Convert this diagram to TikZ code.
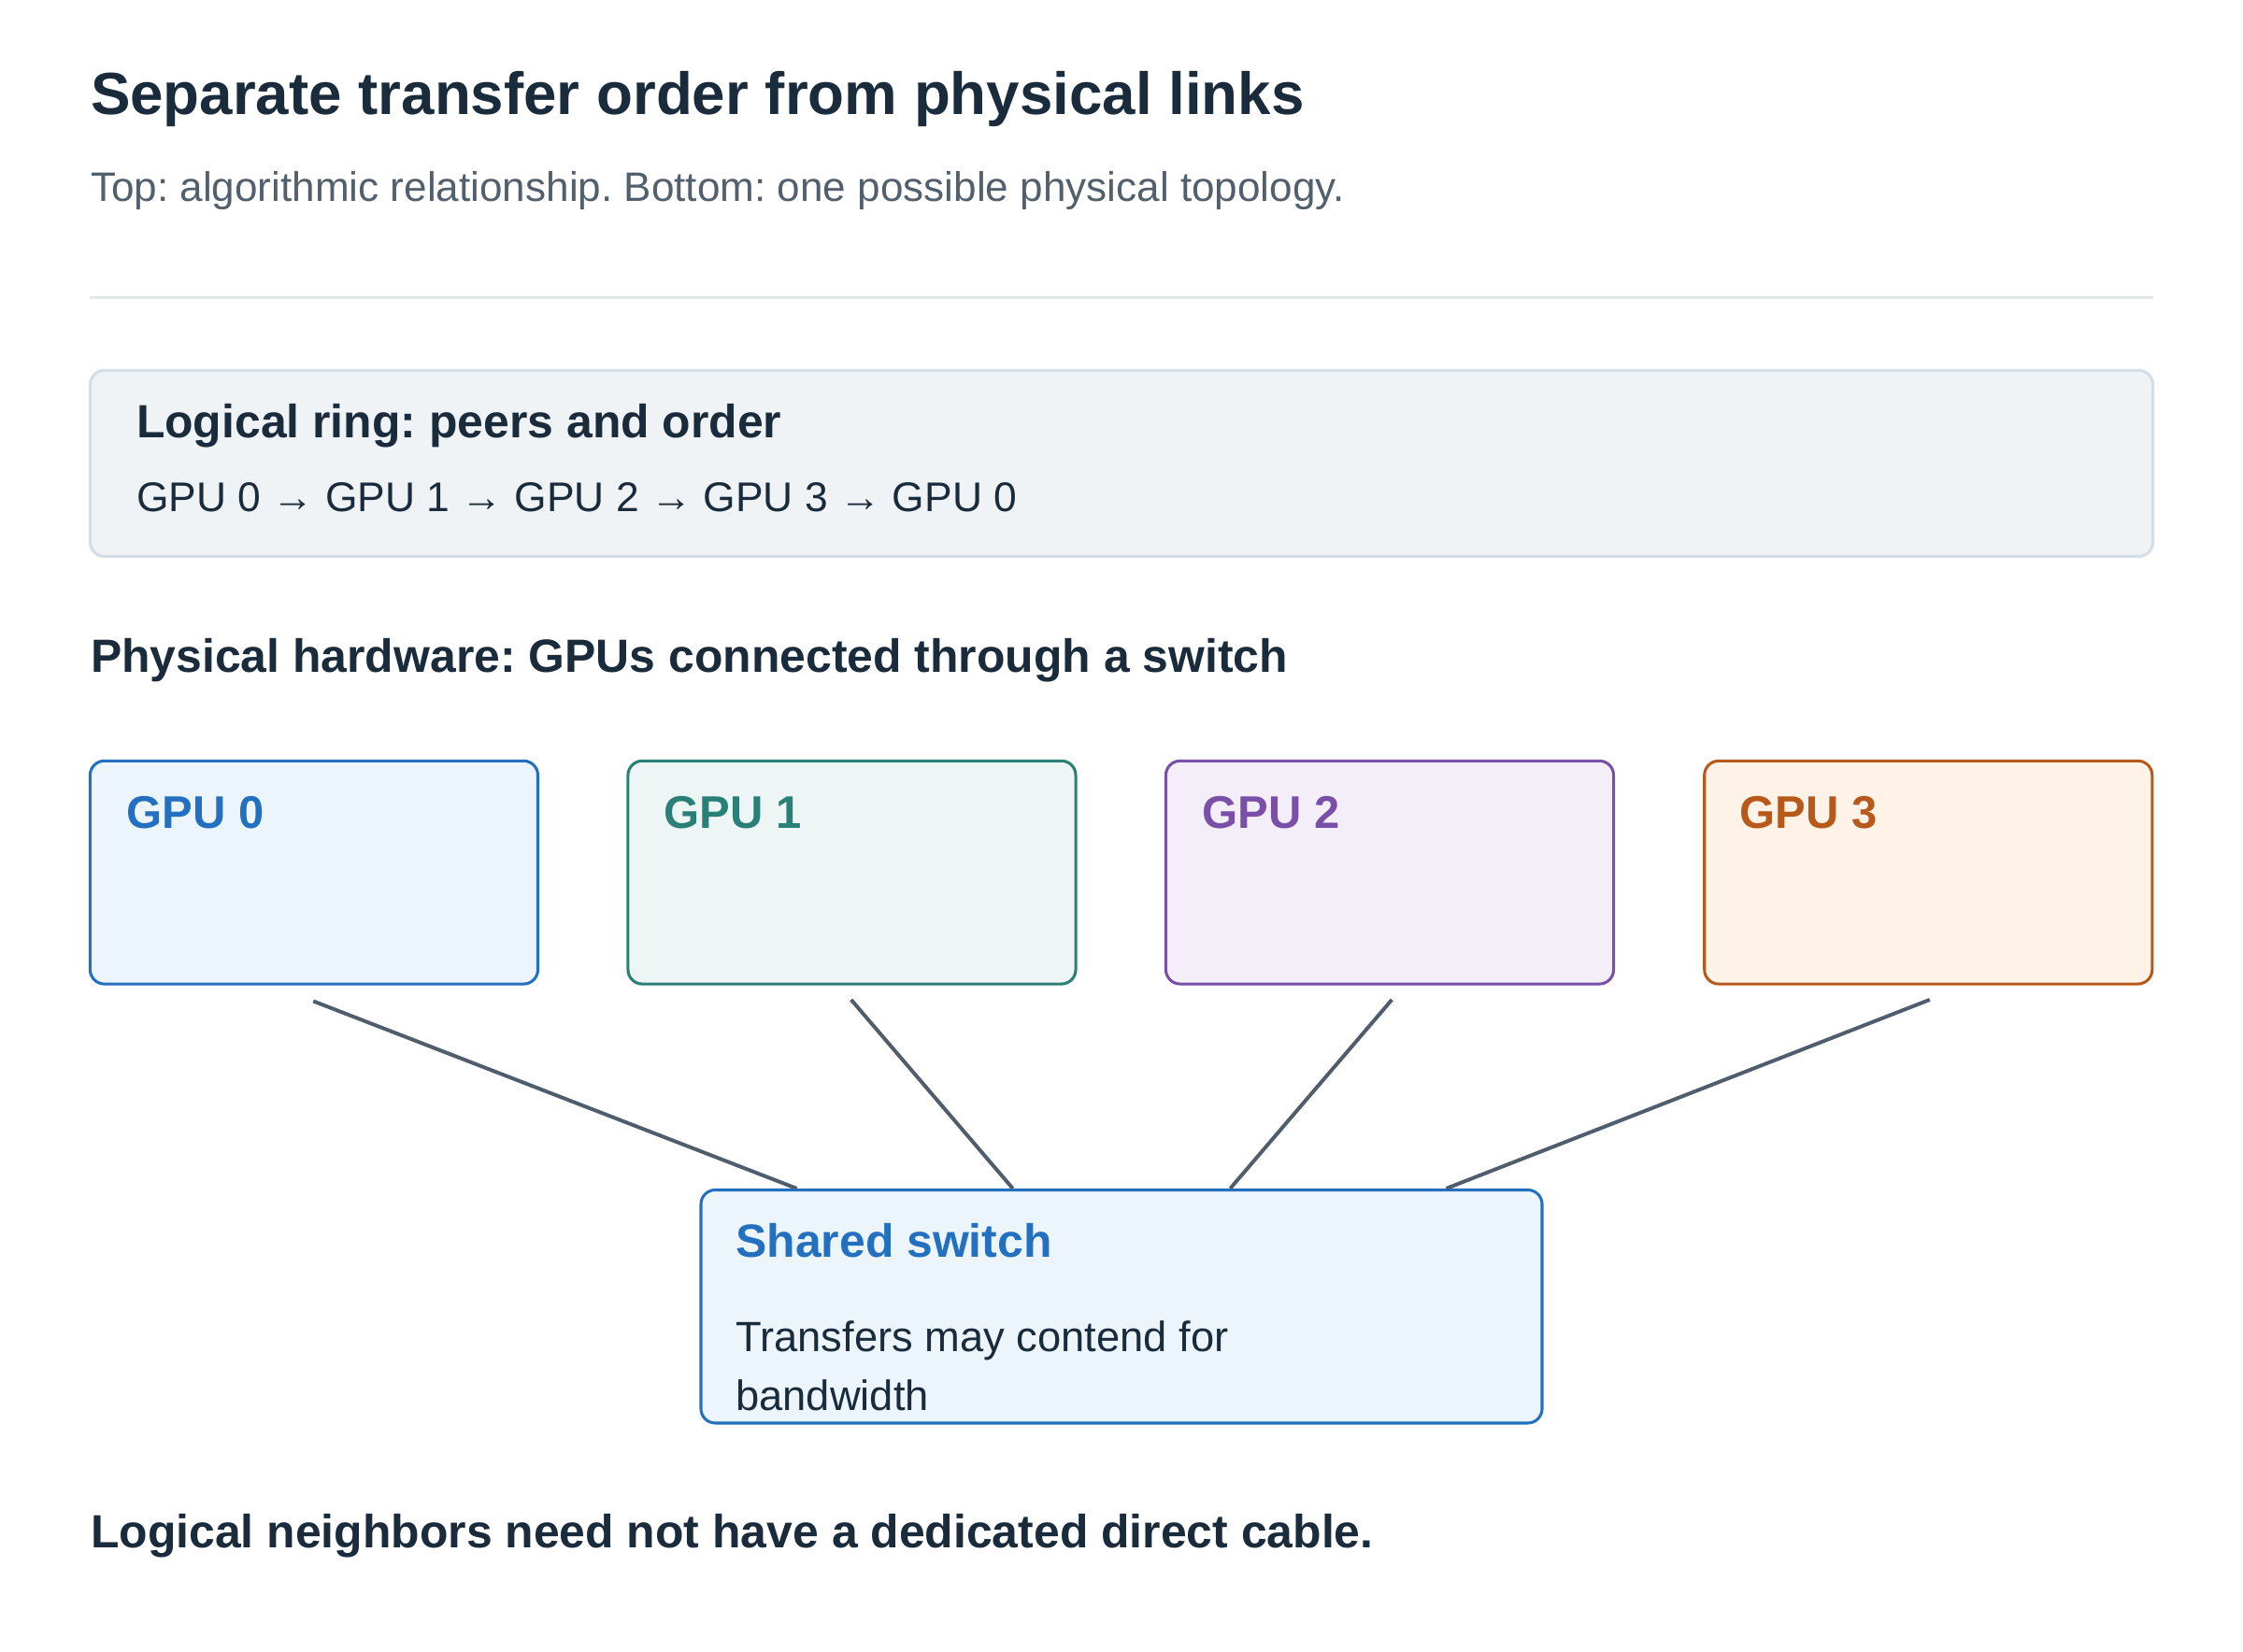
\documentclass[tikz,border=0pt]{standalone}
\usepackage{fontspec}
\setmainfont{Liberation Sans}
\frenchspacing
\definecolor{ink}{HTML}{1A2B3C}
\definecolor{sub}{HTML}{52606D}
\definecolor{rule}{HTML}{E1E6EB}
\definecolor{panel}{HTML}{EFF3F6}
\definecolor{panelb}{HTML}{D5DDE5}
\definecolor{cb}{HTML}{2370C0}\definecolor{fb}{HTML}{EDF5FC}
\definecolor{ct}{HTML}{2A8076}\definecolor{ft}{HTML}{EDF6F4}
\definecolor{cp}{HTML}{7A4FA8}\definecolor{fp}{HTML}{F3EEF8}
\definecolor{co}{HTML}{B8591C}\definecolor{fo}{HTML}{FEF3E6}
\definecolor{link}{HTML}{4F5D6C}
\begin{document}
\begin{tikzpicture}[x=0.5pt,y=-0.5pt,
  txt/.style={anchor=base west,inner sep=0,text=ink},
  box/.style={draw,rounded corners=5pt,line width=1pt},
  gpu/.style={box,minimum width=156.5pt,minimum height=78pt,inner sep=0},
  glab/.style={txt,font=\fontsize{16}{19}\selectfont\bfseries},
  wire/.style={draw=link,line width=1.3pt}]
\useasboundingbox (0,0) rectangle (1568,1155);
\node[txt,font=\fontsize{20.8}{25}\selectfont\bfseries] (title) at (63,80) {Separate transfer order from physical links};
\node[txt,text=sub,font=\fontsize{14.4}{17}\selectfont] (subt) at (63,141) {Top: algorithmic relationship. Bottom: one possible physical topology.};
\draw[rule,line width=0.8pt] (63,208) -- (1505,208);
\node[box,draw=panelb,fill=panel,minimum width=721pt,minimum height=65pt,inner sep=0] (ring) at (784,324) {};
\node[txt,font=\fontsize{16.3}{19}\selectfont\bfseries] (ringh) at (95,306) {Logical ring: peers and order};
\node[txt,font=\fontsize{14.5}{17}\selectfont] (ringt) at (95,358) {GPU 0 → GPU 1 → GPU 2 → GPU 3 → GPU 0};
\node[txt,font=\fontsize{16.3}{19}\selectfont\bfseries] (phys) at (63,470) {Physical hardware: GPUs connected through a switch};
\node[gpu,draw=cb,fill=fb] (g0) at (219.5,610) {};
\node[gpu,draw=ct,fill=ft] (g1) at (595.5,610) {};
\node[gpu,draw=cp,fill=fp] (g2) at (971.5,610) {};
\node[gpu,draw=co,fill=fo] (g3) at (1348,610) {};
\node[glab,text=cb] (l0) at (88,579) {GPU 0};
\node[glab,text=ct] (l1) at (464,579) {GPU 1};
\node[glab,text=cp] (l2) at (840,579) {GPU 2};
\node[glab,text=co] (l3) at (1216,579) {GPU 3};
\node[box,draw=cb,fill=fb,minimum width=294pt,minimum height=81.5pt,inner sep=0] (sw) at (784,913.5) {};
\node[txt,text=cb,font=\fontsize{16.3}{19}\selectfont\bfseries] (swh) at (514,879) {Shared switch};
\node[txt,font=\fontsize{14.8}{17}\selectfont] (swt1) at (514,945) {Transfers may contend for};
\node[txt,font=\fontsize{14.8}{17}\selectfont] (swt2) at (514,986) {bandwidth};
\coordinate (p0) at (219,700); \coordinate (p1) at (595,699);
\coordinate (p2) at (973,699); \coordinate (p3) at (1349,699);
\coordinate (s0) at (557,831); \coordinate (s1) at (708,831);
\coordinate (s2) at (860,831); \coordinate (s3) at (1011,831);
\draw[wire] (p0) -- (s0); \draw[wire] (p1) -- (s1);
\draw[wire] (p2) -- (s2); \draw[wire] (p3) -- (s3);
\node[txt,font=\fontsize{16.3}{19}\selectfont\bfseries] (foot) at (63,1082) {Logical neighbors need not have a dedicated direct cable.};
\end{tikzpicture}
\end{document}
